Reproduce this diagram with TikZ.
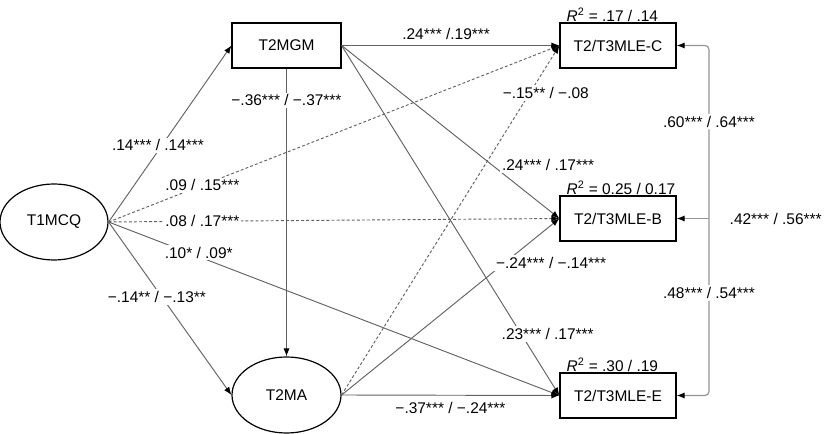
\documentclass[tikz,border=0pt]{standalone}
\usepackage{fontspec}
\setmainfont{Liberation Sans}
\usetikzlibrary{positioning, arrows.meta, shapes.geometric}

\begin{document}
\begin{tikzpicture}[
    x=0.75pt, y=-0.75pt,
    >={Latex[length=6pt, width=4.6pt, color=black]},
    font=\fontsize{11.6pt}{14pt}\selectfont,
    box/.style={rectangle, draw, line width=0.9pt,
                minimum width=87pt, minimum height=33.75pt, inner sep=0pt},
    latent/.style={ellipse, draw, line width=0.9pt,
                   minimum width=81.75pt, minimum height=57pt, inner sep=0pt},
    eff/.style={->, draw=black!62, line width=0.7pt},
    effns/.style={eff, dash pattern=on 2.2pt off 1.6pt},
    corr/.style={->, draw=black!42, line width=0.9pt, rounded corners=3pt},
    coef/.style={fill=white, inner sep=1.5pt},
    rsq/.style={inner sep=0.5pt, anchor=south west}
]
  \useasboundingbox (0,0) rectangle (832,434);

  % Left: predictor and mediators
  \node[latent, minimum width=81pt] (mcq) at (54,222) {T1MCQ};
  \node[box, minimum width=81.75pt] (mgm) at (286.5,45.5) {T2MGM};
  \node[latent] (ma) at (286.5,395) {T2MA};

  % Right: outcomes
  \node[box] (mlec) at (618,45.5) {T2/T3MLE-C};
  \node[box] (mleb) at (618,218.5) {T2/T3MLE-B};
  \node[box] (mlee) at (618,395.5) {T2/T3MLE-E};

  % Explained variance
  \node[rsq] (r2c) at ([xshift=4.75pt]mlec.north west) {\textit{R}\textsuperscript{2} = .17 / .14};
  \node[rsq] (r2b) at ([xshift=4.75pt]mleb.north west) {\textit{R}\textsuperscript{2} = 0.25 / 0.17};
  \node[rsq] (r2e) at ([xshift=4.75pt]mlee.north west) {\textit{R}\textsuperscript{2} = .30 / .19};

  % Paths from T1MCQ
  \draw[eff] (mcq.east) -- node[coef, pos=0.435, xshift=-3pt] (c1) {.14*** / .14***} (mgm.west);
  \draw[effns] (mcq.east) -- node[coef, pos=0.208] (c2) {.09 / .15***} (mlec.west);
  \draw[effns] (mcq.east) -- node[coef, pos=0.208] (c3) {.08 / .17***} (mleb.west);
  \draw[eff] (mcq.east) -- node[coef, pos=0.2, yshift=3pt] (c4) {.10* / .09*} (mlee.west);
  \draw[eff] (mcq.east) -- node[coef, pos=0.434, xshift=-3.75pt] (c5) {−.14** / −.13**} (ma.west);

  % Paths from T2MGM
  \draw[eff] (mgm) -- node[coef, pos=0.11] (c6) {−.36*** / −.37***} (ma);
  \draw[eff] (mgm.east) -- node[above, pos=0.48, inner sep=2pt, yshift=2pt] (c7) {.24*** /.19***} (mlec.west);
  \draw[eff] (mgm.east) -- node[coef, pos=0.691, xshift=42pt] (c8) {.24*** / .17***} (mleb.west);
  \draw[eff] (mgm.east) -- node[coef, pos=0.824, xshift=20pt] (c9) {.23*** / .17***} (mlee.west);

  % Paths from T2MA
  \draw[effns] (ma.east) -- node[coef, pos=0.864, xshift=12pt] (c10) {−.15** / −.08} (mlec.west);
  \draw[eff] (ma.east) -- node[coef, pos=0.748, xshift=35pt] (c11) {−.24*** / −.14***} (mleb.west);
  \draw[eff] (ma.east) -- node[below, pos=0.5, inner sep=2pt, yshift=-3pt] (c12) {−.37*** / −.24***} (mlee.west);

  % Residual correlations
  \coordinate (brk) at (709,218.5);
  \draw[corr] (brk) |- node[coef, pos=0.28] (r1) {.60*** / .64***} (mlec.east);
  \draw[corr] (brk) |- node[coef, pos=0.21] (r2) {.48*** / .54***} (mlee.east);
  \draw[corr] (brk) -- (mleb.east);
  \node[right=12pt of brk] (r3) {.42*** / .56***};
\end{tikzpicture}
\end{document}
